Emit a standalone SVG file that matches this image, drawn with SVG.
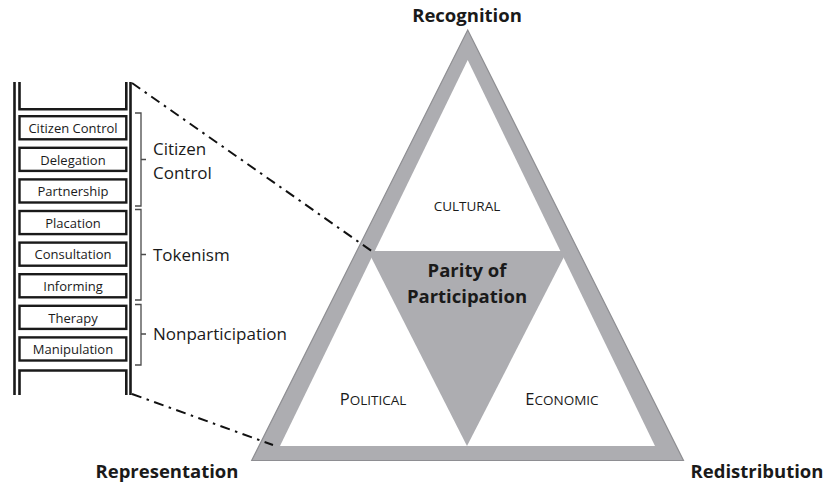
<svg xmlns="http://www.w3.org/2000/svg" width="826" height="486" viewBox="0 0 826 486">
<style>
.rail{stroke:#1a1a1a;stroke-width:2.6;fill:none}
.box{fill:#fff;stroke:#1a1a1a;stroke-width:2.4}
.rt{font-family:'Open Sans',sans-serif;font-size:13px;fill:#1a1a1a;text-anchor:middle}
.br{fill:none;stroke:#4a4a4a;stroke-width:1.3}
.bl{font-family:'Open Sans',sans-serif;font-size:17px;fill:#1a1a1a}
.hd{font-family:'Open Sans',sans-serif;font-weight:bold;font-size:18.5px;fill:#1a1a1a;text-anchor:middle}
.sc{font-family:'Open Sans',sans-serif;font-size:13.5px;fill:#1a1a1a;text-anchor:middle}
.big{font-size:16.5px}
.tri{fill:#adadb1}
.conn{stroke:#111;stroke-width:2;stroke-dasharray:10 5.5 2.5 5.5;fill:none}
</style>
<rect width="826" height="486" fill="#fff"/>
<g id="ladder">
<path class="rail" d="M14.5,82 V395 M130.5,82 V395"/>
<path class="rail" d="M19.5,82 V109.3 H126.3 V82 M19.5,395 V370.5 H126.3 V395" stroke-width="2.4"/>
</g>
<g id="rung-citizen-control"><rect class="box" x="19.5" y="116.2" width="106.8" height="23.1"/><text class="rt" x="73" y="133">Citizen Control</text></g>
<g id="rung-delegation"><rect class="box" x="19.5" y="147.8" width="106.8" height="23.1"/><text class="rt" x="73" y="164.6">Delegation</text></g>
<g id="rung-partnership"><rect class="box" x="19.5" y="179.4" width="106.8" height="23.1"/><text class="rt" x="73" y="196.2">Partnership</text></g>
<g id="rung-placation"><rect class="box" x="19.5" y="211" width="106.8" height="23.1"/><text class="rt" x="73" y="227.8">Placation</text></g>
<g id="rung-consultation"><rect class="box" x="19.5" y="242.6" width="106.8" height="23.1"/><text class="rt" x="73" y="259.4">Consultation</text></g>
<g id="rung-informing"><rect class="box" x="19.5" y="274.2" width="106.8" height="23.1"/><text class="rt" x="73" y="291">Informing</text></g>
<g id="rung-therapy"><rect class="box" x="19.5" y="305.8" width="106.8" height="23.1"/><text class="rt" x="73" y="322.6">Therapy</text></g>
<g id="rung-manipulation"><rect class="box" x="19.5" y="337.4" width="106.8" height="23.1"/><text class="rt" x="73" y="354.2">Manipulation</text></g>
<g id="group-citizen-control"><path class="br" d="M135,113 H141 V206 H135 M141,159.5 H146"/><text class="bl" x="153" y="155">Citizen</text><text class="bl" x="153" y="178.5">Control</text></g>
<g id="group-tokenism"><path class="br" d="M135,209.5 H141 V300 H135 M141,254.5 H146"/><text class="bl" x="153" y="260.5">Tokenism</text></g>
<g id="group-nonparticipation"><path class="br" d="M135,304.5 H141 V365 H135 M141,334 H146"/><text class="bl" x="153" y="339.5">Nonparticipation</text></g>
<g id="triangle">
<polygon class="tri" points="467.7,30 683.5,460.5 251.7,460.5" stroke="#8e8e92" stroke-width="1.2"/>
<polygon points="467.7,60 655,446 280,446" fill="#fff"/>
<polygon class="tri" points="368,251 567,251 467,446"/>
</g>
<g id="labels">
<text class="hd" x="467" y="22">Recognition</text>
<text class="hd" x="167" y="478">Representation</text>
<text class="hd" x="757" y="478">Redistribution</text>
<text class="hd" x="467" y="277" fill="#2a2a2a">Parity of</text>
<text class="hd" x="467" y="303" fill="#2a2a2a">Participation</text>
<text class="sc" x="467" y="211">CULTURAL</text>
<text class="sc" x="373" y="405"><tspan class="big">P</tspan>OLITICAL</text>
<text class="sc" x="562" y="405"><tspan class="big">E</tspan>CONOMIC</text>
</g>
<g id="connectors">
<path class="conn" d="M132,83 L373,252"/>
<path class="conn" d="M132,394 L273,445"/>
</g>
</svg>
